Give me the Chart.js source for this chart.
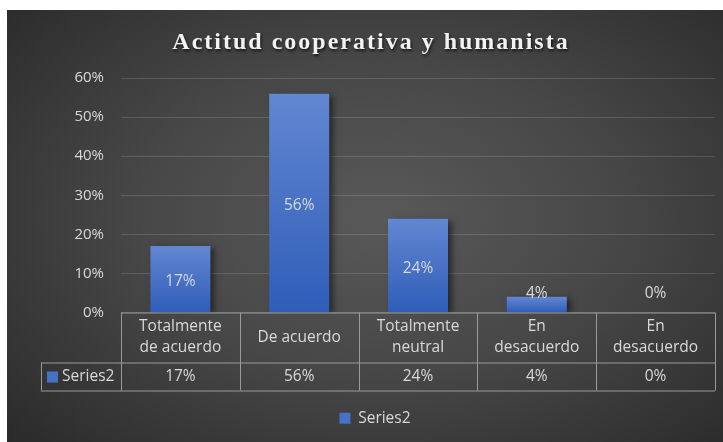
<!DOCTYPE html>
<html>
<head>
<meta charset="utf-8">
<script src="https://cdn.jsdelivr.net/npm/chart.js@4.4.1/dist/chart.umd.min.js"></script>
<style>
  html, body { margin: 0; padding: 0; background: #fff; }
  #wrap {
    position: absolute; left: 7px; top: 10px; width: 716px; height: 432px;
    background: radial-gradient(ellipse 75% 80% at 52% 48%, #595959 0%, #474747 45%, #333 80%, #272727 100%);
  }
</style>
</head>
<body>
<div id="wrap"><canvas id="chart" width="716" height="432"></canvas></div>
<script>
const title = 'Actitud cooperativa y humanista'
const categories = [['Totalmente', 'de acuerdo'], ['De acuerdo'], ['Totalmente', 'neutral'], ['En', 'desacuerdo'], ['En', 'desacuerdo']]
const seriesName = 'Series2'
const values = [0.17, 0.56, 0.24, 0.04, 0]
const yTicks = [0, 0.1, 0.2, 0.3, 0.4, 0.5, 0.6]

const textColor = '#d9d9d9'
const font = '"Open Sans", Lato, sans-serif'
const pct = v => Math.round(v * 100) + '%'

// bar fill: lighter at the top, darker at the base
function barFill(context) {
  const chart = context.chart
  const y = chart.scales.y
  if (!y || context.raw === undefined) return '#4472c4'
  const top = y.getPixelForValue(context.raw)
  const base = y.getPixelForValue(0)
  if (!isFinite(top) || top === base) return '#4472c4'
  const g = chart.ctx.createLinearGradient(0, top, 0, base)
  g.addColorStop(0, '#6287d2')
  g.addColorStop(1, '#2f5db8')
  return g
}

const extras = {
  id: 'extras',
  afterLayout(chart) {
    // excel puts the legend a little right of the middle
    chart.legend.left += 14
    chart.legend.right += 14
  },
  beforeDatasetsDraw(chart) {
    const ctx = chart.ctx
    ctx.save()
    ctx.shadowColor = 'rgba(0,0,0,0.5)'
    ctx.shadowBlur = 6
    ctx.shadowOffsetX = 4
    ctx.shadowOffsetY = 2
  },
  afterDatasetsDraw(chart) {
    const ctx = chart.ctx
    ctx.restore()
    // data labels
    const y = chart.scales.y
    const zero = y.getPixelForValue(0)
    const meta = chart.getDatasetMeta(0)
    ctx.save()
    ctx.font = '15.5px ' + font
    ctx.fillStyle = textColor
    ctx.textAlign = 'center'
    ctx.textBaseline = 'middle'
    meta.data.forEach((bar, i) => {
      const mid = (bar.y + bar.base) / 2 + 3
      ctx.fillText(pct(values[i]), bar.x, Math.min(mid, zero - 19))
    })
    ctx.restore()
  },
  afterDraw(chart) {
    const ctx = chart.ctx
    const x = chart.scales.x
    const area = chart.chartArea
    const n = categories.length
    const w = (area.right - area.left) / n
    const top = area.bottom
    const mid = top + 50
    const bottom = mid + 28
    const labelLeft = area.left - 80

    ctx.save()
    // title
    ctx.font = 'bold 24px "Liberation Serif", "Times New Roman", serif'
    ctx.letterSpacing = '2px'
    ctx.fillStyle = '#f2f2f2'
    ctx.textAlign = 'center'
    ctx.textBaseline = 'middle'
    ctx.shadowColor = 'rgba(0,0,0,0.7)'
    ctx.shadowBlur = 3
    ctx.shadowOffsetX = 1
    ctx.shadowOffsetY = 2
    ctx.fillText(title, chart.width / 2 + 6, 33)
    ctx.restore()

    // data table
    ctx.save()
    ctx.strokeStyle = '#9a9a9a'
    ctx.lineWidth = 1
    ctx.beginPath()
    ctx.moveTo(area.left, top + 0.5); ctx.lineTo(area.right, top + 0.5)
    ctx.moveTo(labelLeft, mid + 0.5); ctx.lineTo(area.right, mid + 0.5)
    ctx.moveTo(labelLeft, bottom + 0.5); ctx.lineTo(area.right, bottom + 0.5)
    ctx.moveTo(labelLeft + 0.5, mid); ctx.lineTo(labelLeft + 0.5, bottom)
    for (let i = 0; i <= n; i++) {
      const px = Math.round(area.left + i * w) + 0.5
      ctx.moveTo(px, top); ctx.lineTo(px, bottom)
    }
    ctx.stroke()

    ctx.font = '15.5px ' + font
    ctx.fillStyle = textColor
    ctx.textAlign = 'center'
    ctx.textBaseline = 'middle'
    categories.forEach((lines, i) => {
      const cx = x.getPixelForValue(i)
      const lh = 21
      const y0 = (top + mid) / 2 - (lines.length - 1) * lh / 2
      lines.forEach((ln, j) => ctx.fillText(ln, cx, y0 + j * lh))
      ctx.fillText(pct(values[i]), cx, (mid + bottom) / 2)
    })
    // series key in the table
    ctx.fillStyle = '#4472c4'
    ctx.fillRect(labelLeft + 6, (mid + bottom) / 2 - 5, 11, 11)
    ctx.fillStyle = textColor
    ctx.textAlign = 'left'
    ctx.fillText(seriesName, labelLeft + 21, (mid + bottom) / 2)
    ctx.restore()
  }
}

new Chart(document.getElementById('chart'), {
  type: 'bar',
  data: {
    labels: categories,
    datasets: [{
      label: seriesName,
      data: values,
      backgroundColor: barFill,
      borderWidth: 0,
      barPercentage: 0.505,
      categoryPercentage: 1
    }]
  },
  options: {
    responsive: false,
    animation: false,
    layout: { padding: { top: 68, right: 8, bottom: 6, left: 0 } },
    plugins: {
      title: { display: false },
      tooltip: { enabled: false },
      legend: {
        position: 'bottom',
        labels: {
          color: textColor,
          font: { family: font, size: 15.5 },
          boxWidth: 11,
          boxHeight: 11,
          padding: 10,
          generateLabels: chart => [{
            text: seriesName,
            fillStyle: '#4472c4',
            strokeStyle: '#4472c4',
            lineWidth: 0,
            fontColor: textColor,
            datasetIndex: 0
          }]
        }
      }
    },
    scales: {
      x: {
        ticks: { display: false },
        grid: { display: false },
        border: { display: false },
        afterFit: scale => { scale.height = 88 }
      },
      y: {
        min: 0,
        max: 0.6,
        afterBuildTicks: scale => { scale.ticks = yTicks.map(v => ({ value: v })) },
        ticks: {
          color: textColor,
          font: { family: font, size: 15 },
          padding: 17,
          callback: v => pct(v)
        },
        grid: { color: 'rgba(255,255,255,0.14)', drawTicks: false },
        border: { display: false },
        afterFit: scale => { scale.width = 114 }
      }
    }
  },
  plugins: [extras]
})
</script>
</body>
</html>
